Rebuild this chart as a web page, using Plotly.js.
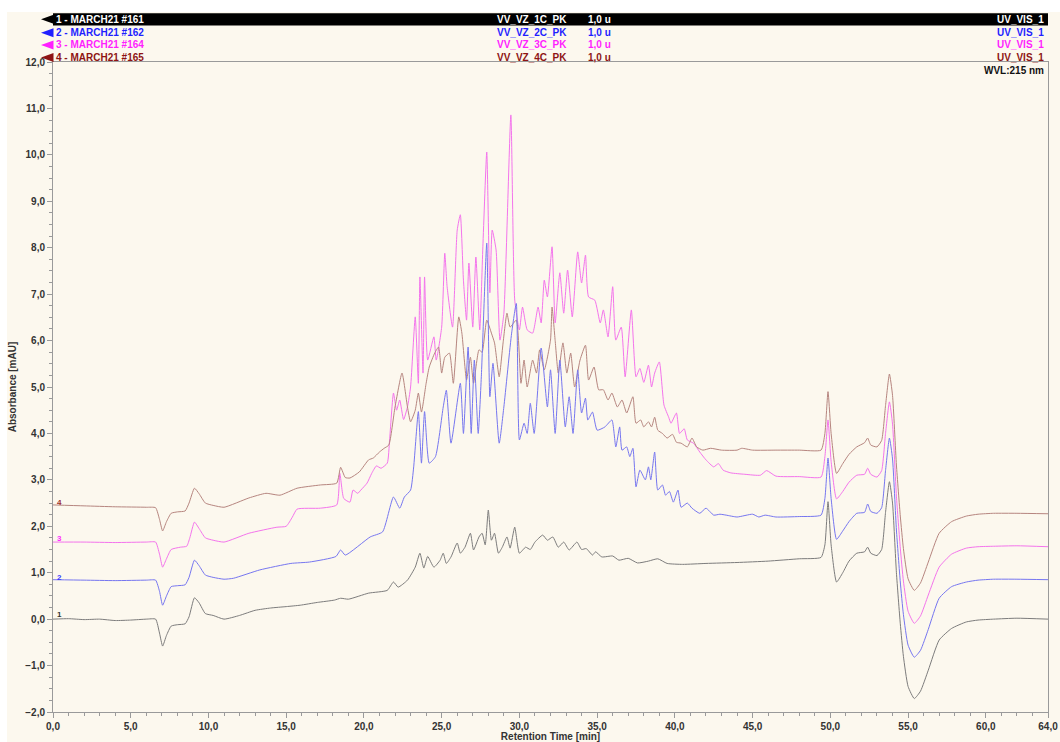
<!DOCTYPE html>
<html>
<head>
<meta charset="utf-8">
<script src="https://cdn.plot.ly/plotly-3.0.1.min.js"></script>
<style>
  html, body { margin: 0; padding: 0; background: #ffffff; }
  #wrap { position: absolute; left: 7px; top: 12px; width: 1053px; height: 730px; background: #fcf8ee; }
  #chart { width: 1053px; height: 730px; }
</style>
</head>
<body>
<div id="wrap"><div id="chart"></div></div>
<script>
// ---------------- data (retention time in min, absorbance in mAU) ----------------
const tailTime = [49.4,49.65,49.85,50.05,50.4,50.8,51.2,51.7,52.2,52.4,52.6,53.0,53.3,53.55,53.8,54.0,54.25,54.5,54.7,55.0,55.4,55.8,56.3,57.0,57.8,58.75,59.5,60.5,62,64];

const time1Head = [0,1,2,3,4,5,6,6.6,6.85,7.05,7.3,7.6,8.0,8.5,8.75,9.1,9.4,9.8,10.3,11.0,12.0,13.0,14.0,15.0,15.9,17.0,18.1,18.5,19.0,20.3,21.5,21.9,22.2,22.8,23.3,23.6,23.85,24.1,24.5,24.9,25.1,25.3,25.6,26.0,26.2,26.5,26.85,27.05,27.4,27.6,27.8,28.0,28.2,28.4,28.65,28.9,29.2,29.4,29.7,30.0,30.4,30.7,31.0,31.5,31.8,32.15,32.5,32.85,33.2,33.7,34.0,34.3,34.7,34.9,35.3,36.0,36.4,37.0,37.6,38.3,38.9,39.5,40.5,42,44,46,48];
const abs1Head = [0.0,0.01,-0.01,0.0,-0.03,-0.02,0.0,0.0,-0.3,-0.58,-0.35,-0.15,-0.12,-0.1,0.05,0.46,0.35,0.12,0.08,0.0,0.08,0.19,0.24,0.27,0.3,0.36,0.41,0.45,0.43,0.56,0.62,0.8,0.69,0.84,1.12,1.42,1.1,1.35,1.12,1.27,1.42,1.2,1.34,1.64,1.42,1.55,1.85,1.49,1.77,1.85,1.6,2.35,1.7,1.85,1.42,1.55,1.77,1.53,1.98,1.42,1.55,1.5,1.66,1.81,1.7,1.77,1.55,1.66,1.49,1.66,1.5,1.52,1.38,1.45,1.34,1.36,1.27,1.31,1.21,1.25,1.3,1.2,1.18,1.2,1.22,1.25,1.3];
const abs1Tail = [1.33,1.6,2.53,1.6,0.8,1.0,1.25,1.42,1.45,1.55,1.42,1.37,1.5,2.3,2.96,2.5,1.0,-0.1,-0.8,-1.45,-1.71,-1.55,-1.1,-0.45,-0.2,-0.06,-0.02,0.0,0.02,0.0];

const time2Head = [0,2,4,6,6.6,6.85,7.05,7.3,7.6,8.0,8.5,8.75,9.1,9.4,9.8,10.3,11.0,11.6,13.3,15.3,16.5,18.2,18.5,18.8,20.4,21.2,21.9,22.3,22.6,23.0,23.2,23.5,23.7,23.9,24.2,24.6,25.1,25.3,25.6,26.2,26.4,26.7,26.9,27.1,27.35,27.55,27.9,28.1,28.3,28.7,29.0,29.5,29.8,30.0,30.3,30.5,30.7,30.95,31.4,31.8,32.0,32.3,32.6,32.95,33.2,33.45,33.75,34.0,34.25,34.4,34.7,35.0,35.5,35.95,36.2,36.45,36.6,36.9,37.1,37.3,37.5,37.75,38.1,38.3,38.45,38.7,38.9,39.2,39.4,39.65,39.9,40.2,40.4,40.8,41.1,41.6,42.0,42.5,42.9,43.3,44.0,45.0,45.4,45.8,46.5,48];
const abs2Head = [0.85,0.84,0.83,0.84,0.84,0.6,0.30,0.5,0.7,0.72,0.74,0.9,1.27,1.15,0.95,0.9,0.86,0.88,1.06,1.2,1.23,1.35,1.49,1.38,1.77,1.88,2.63,2.39,2.63,2.78,3.28,4.47,3.36,4.47,3.36,3.5,4.57,4.93,3.79,5.08,4.0,5.86,4.0,5.58,4.0,5.22,8.1,4.79,5.51,3.79,4.57,6.16,6.8,3.86,4.22,4.0,4.65,4.0,5.84,4.57,5.37,4.0,5.58,4.14,4.79,4.0,5.37,4.44,4.76,4.29,4.46,4.07,4.14,4.29,3.71,4.14,3.64,3.71,3.5,3.68,2.85,3.21,3.0,3.28,3.0,3.6,2.78,2.89,2.67,2.75,2.52,2.78,2.41,2.5,2.39,2.28,2.39,2.24,2.26,2.24,2.2,2.26,2.2,2.24,2.2,2.21];
const abs2Tail = [2.24,2.6,3.47,2.6,1.72,1.9,2.1,2.28,2.3,2.48,2.32,2.28,2.4,3.2,3.9,3.45,1.92,0.8,0.1,-0.56,-0.82,-0.67,-0.22,0.45,0.7,0.8,0.84,0.86,0.86,0.85];

const time3Head = [0,2,4,6,6.6,6.85,7.05,7.3,7.6,8.2,8.6,8.8,9.1,9.4,9.8,10.3,11.0,12.6,14.4,15.0,15.4,15.7,17.2,18.25,18.45,18.7,19.1,19.3,19.6,19.8,20.2,20.5,20.8,21.1,21.5,21.65,21.9,22.1,22.3,22.55,22.8,23.0,23.3,23.5,23.6,23.8,23.9,24.1,24.5,24.65,25.0,25.2,25.35,25.7,26.0,26.2,26.4,26.6,26.75,27.0,27.2,27.45,27.65,27.9,28.1,28.25,28.5,28.75,29.0,29.45,29.7,30.0,30.2,30.5,30.85,31.2,31.4,31.6,31.8,32.1,32.3,32.6,32.85,33.1,33.4,33.75,34.0,34.25,34.45,34.85,35.2,35.4,35.7,36.0,36.2,36.55,36.8,37.2,37.5,37.75,38.0,38.3,38.5,38.7,39.0,39.3,39.6,39.75,40.1,40.3,40.6,40.8,41.2,41.6,42.0,42.5,42.8,43.1,43.6,44.5,45.5,45.9,46.5,48];
const abs3Head = [1.66,1.66,1.65,1.66,1.66,1.4,1.12,1.3,1.5,1.55,1.57,1.75,2.09,1.95,1.75,1.7,1.66,1.85,1.98,2.0,2.2,2.37,2.39,2.46,3.14,2.6,2.52,2.78,2.71,2.78,2.93,3.14,3.3,3.25,3.36,3.86,4.87,4.5,4.72,4.3,4.57,5.0,6.51,5.08,7.37,5.3,7.37,5.58,6.08,5.58,6.29,7.88,7.16,6.29,8.38,8.71,7.3,6.44,7.67,6.29,7.8,6.23,8.02,10.06,7.03,8.38,7.95,6.01,6.59,10.86,6.87,6.23,6.72,6.23,6.16,6.72,6.38,7.3,6.94,8.02,6.38,7.46,6.59,7.52,6.51,7.91,7.24,7.84,6.94,6.87,6.38,6.66,6.08,7.16,6.01,6.29,5.22,6.66,5.22,5.4,5.1,5.47,5.0,5.3,5.54,4.61,4.35,4.22,4.44,4.0,4.1,3.86,3.79,3.6,3.43,3.28,3.35,3.21,3.15,3.12,3.1,3.2,3.08,3.07];
const abs3Tail = [3.06,3.5,4.29,3.4,2.59,2.75,2.95,3.1,3.12,3.25,3.12,3.06,3.2,4.0,4.68,4.2,2.65,1.53,0.82,0.17,-0.09,0.07,0.52,1.12,1.4,1.53,1.56,1.57,1.58,1.56];

const time4Head = [0,2,4,6,6.6,6.85,7.05,7.3,7.6,8.0,8.5,8.75,9.1,9.4,9.8,10.3,11.0,12.6,13.7,14.6,15.7,17.2,18.25,18.5,18.8,19.1,19.7,20.3,20.6,21.0,21.3,21.6,22.0,22.45,22.8,23.0,23.3,23.5,23.7,24.0,24.2,24.55,24.8,25.0,25.2,25.5,25.75,26.1,26.3,26.6,26.85,27.05,27.4,27.6,27.9,28.2,28.4,28.7,28.95,29.2,29.4,29.8,30.1,30.3,30.5,30.85,31.1,31.3,31.6,32.0,32.1,32.3,32.5,32.8,33.05,33.3,33.55,33.9,34.25,34.45,34.8,35.1,35.4,35.7,35.95,36.3,36.6,36.9,37.3,37.5,37.8,38.0,38.3,38.5,38.7,38.9,39.2,39.5,39.85,40.1,40.4,40.8,41.1,41.4,41.8,42.3,43,44,44.3,45,46.5,48];
const abs4Head = [2.46,2.44,2.42,2.41,2.40,2.15,1.90,2.1,2.28,2.31,2.33,2.5,2.82,2.7,2.5,2.45,2.41,2.61,2.71,2.67,2.82,2.89,2.93,3.27,3.05,3.04,3.17,3.43,3.47,3.6,3.68,3.75,4.57,5.3,4.57,4.25,4.5,4.87,4.46,5.08,5.43,5.73,5.86,5.3,5.64,5.73,5.08,6.51,6.16,5.15,5.64,5.08,5.8,5.75,6.44,6.16,5.95,5.22,5.95,6.59,6.29,6.44,5.08,5.58,5.0,5.58,5.3,5.8,5.37,6.01,6.72,6.0,5.3,5.95,5.3,5.73,5.0,5.58,5.9,5.15,5.43,4.94,4.94,4.72,4.87,4.57,4.72,4.44,4.79,4.22,4.29,4.14,4.25,4.14,4.35,4.07,4.0,3.9,3.98,3.81,3.79,3.71,3.9,3.71,3.64,3.68,3.64,3.64,3.68,3.64,3.64,3.64];
const abs4Tail = [3.64,4.0,4.9,4.0,3.14,3.35,3.55,3.71,3.8,3.9,3.75,3.71,3.85,4.6,5.28,4.82,3.32,2.22,1.52,0.87,0.62,0.78,1.23,1.85,2.1,2.22,2.26,2.28,2.28,2.27];

const runNames   = ['1 - MARCH21 #161','2 - MARCH21 #162','3 - MARCH21 #164','4 - MARCH21 #165'];
const sampleNames = ['VV_VZ_1C_PK','VV_VZ_2C_PK','VV_VZ_3C_PK','VV_VZ_4C_PK'];
const injVolumes = ['1,0 u','1,0 u','1,0 u','1,0 u'];
const channels = ['UV_VIS_1','UV_VIS_1','UV_VIS_1','UV_VIS_1'];
const xTickVals = [0,5,10,15,20,25,30,35,40,45,50,55,60,64];
const yTickVals = [-2,-1,0,1,2,3,4,5,6,7,8,9,10,11,12];

// ---------------- styling ----------------
const lineColors = ['#7c7c7c','#7676f0','#f474ec','#b6857f'];
const textColors = ['#ffffff','#1f1fff','#ff1fff','#8e1414'];
const arrowColors = ['#000000','#1f1fff','#ff1fff','#8e1414'];
const numColors = ['#333333','#3a3aff','#ff2aff','#a03030'];

const times = [time1Head.concat(tailTime), time2Head.concat(tailTime), time3Head.concat(tailTime), time4Head.concat(tailTime)];
const values = [abs1Head.concat(abs1Tail), abs2Head.concat(abs2Tail), abs3Head.concat(abs3Tail), abs4Head.concat(abs4Tail)];
times.forEach((t,i)=>{ if (t.length !== values[i].length) console.error('length mismatch trace '+(i+1)+': '+t.length+' vs '+values[i].length); });

// plot geometry inside the div (px)
const W = 1053, H = 730;
const L = 46, R = 12, T = 50, B = 30;
const pw = W - L - R, ph = H - T - B;
const px = x => (x - 7 - L) / pw;        // page x px -> paper
const py = y => (H - B - (y - 12)) / ph; // page y px -> paper

const font = 'Liberation Sans, Arial, Helvetica, sans-serif';

const order = [2,3,1,0];
const traces = order.map(i => ({
  type: 'scatter', mode: 'lines',
  x: times[i], y: values[i],
  line: {color: lineColors[i], width: 1, shape: 'spline', smoothing: 0.5},
  hoverinfo: 'skip', showlegend: false
}));

const annotations = [];
const shapes = [];
const rowY = [19.3, 32.8, 45, 57.6];
// black bar for first row
shapes.push({type:'rect', xref:'paper', yref:'paper', x0: px(53), x1: px(1048), y0: py(25.5), y1: py(13.3),
  fillcolor:'#000000', line:{width:0}, layer:'above'});
for (let i = 0; i < 4; i++) {
  const yc = rowY[i];
  shapes.push({type:'path', xref:'paper', yref:'paper',
    path: `M ${px(41)},${py(yc)} L ${px(53.5)},${py(yc-4.5)} L ${px(53.5)},${py(yc+4.5)} Z`,
    fillcolor: arrowColors[i], line:{width:0}, layer:'above'});
  const base = {xref:'paper', yref:'paper', y: py(yc), yanchor:'middle', showarrow:false,
    font:{family:font, size:10, weight:'bold', color:textColors[i]}};
  annotations.push(Object.assign({}, base, {x: px(54), xanchor:'left', text: runNames[i]}));
  annotations.push(Object.assign({}, base, {x: px(495), xanchor:'left', text: sampleNames[i]}));
  annotations.push(Object.assign({}, base, {x: px(586), xanchor:'left', text: injVolumes[i]}));
  annotations.push(Object.assign({}, base, {x: px(1046), xanchor:'right', text: channels[i]}));
}
annotations.push({xref:'paper', yref:'paper', x: px(1046), y: py(70.5), xanchor:'right', yanchor:'middle',
  showarrow:false, text:'WVL:215 nm', font:{family:font, size:10, weight:'bold', color:'#111111'}});
const numY = [614, 577, 538, 502];
for (let i = 0; i < 4; i++) {
  annotations.push({xref:'paper', yref:'paper', x: px(54.5), y: py(numY[i]), xanchor:'left', yanchor:'middle',
    showarrow:false, text: String(i+1), font:{family:font, size:8, weight:'bold', color:numColors[i]}});
}

const layout = {
  width: W, height: H,
  margin: {l: L, r: R, t: T, b: B, pad: 0},
  paper_bgcolor: '#fcf8ee', plot_bgcolor: '#fcf8ee',
  separators: ',.',
  showlegend: false,
  font: {family: font, size: 10, color: '#333333'},
  xaxis: {
    range: [0, 64], tickmode: 'array', tickvals: xTickVals, tickformat: '.1f',
    showgrid: false, zeroline: false, showline: true, linecolor: '#9a9a9a', linewidth: 1, mirror: true,
    ticks: 'outside', ticklen: 5, tickcolor: '#9a9a9a',
    minor: {tickmode: 'linear', tick0: 0, dtick: 1, ticks: 'outside', ticklen: 3, tickcolor: '#9a9a9a', showgrid: false},
    tickfont: {family: font, size: 10, weight: 'bold', color: '#333333'},
    title: {text: 'Retention Time [min]', font: {family: font, size: 10, weight: 'bold', color: '#333333'}, standoff: 2}
  },
  yaxis: {
    range: [-2, 12], tickmode: 'array', tickvals: yTickVals, tickformat: '.1f',
    showgrid: false, zeroline: false, showline: true, linecolor: '#9a9a9a', linewidth: 1, mirror: true,
    ticks: 'outside', ticklen: 5, tickcolor: '#9a9a9a',
    minor: {tickmode: 'linear', tick0: 0, dtick: 0.25, ticks: 'outside', ticklen: 3, tickcolor: '#9a9a9a', showgrid: false},
    tickfont: {family: font, size: 10, weight: 'bold', color: '#333333'},
    title: {text: 'Absorbance [mAU]', font: {family: font, size: 10, weight: 'bold', color: '#333333'}, standoff: 6}
  },
  shapes: shapes,
  annotations: annotations
};

Plotly.newPlot('chart', traces, layout, {staticPlot: true, displayModeBar: false});
</script>
</body>
</html>
